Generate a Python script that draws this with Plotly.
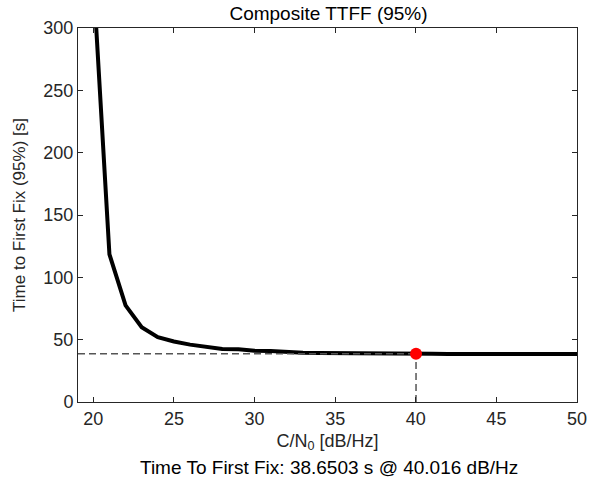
import plotly.graph_objects as go

cn0 = [20, 21, 22, 23, 24, 25, 26, 27, 28, 29, 30, 31, 32, 33, 34, 35,
       36, 37, 38, 39, 40, 41, 42, 43, 44, 45, 46, 47, 48, 49, 50]
ttff = [340, 118.5, 77.5, 60, 52, 48.5, 46, 44.5, 42.5, 42.3, 41.2, 41, 40,
        39.6, 39.3, 39.1, 38.9, 38.8, 38.75, 38.7, 38.65, 38.62, 38.6, 38.6,
        38.6, 38.6, 38.6, 38.6, 38.6, 38.6, 38.6]
sel_x = 40.016
sel_y = 38.6503
x_range = [19.05, 50]
y_range = [0, 300]
x_ticks = [20, 25, 30, 35, 40, 45, 50]
y_ticks = [0, 50, 100, 150, 200, 250, 300]

FONT = "Liberation Sans, Arial, Helvetica, sans-serif"
AX = "#262626"

fig = go.Figure()
fig.add_trace(go.Scatter(x=cn0, y=ttff, mode="lines",
                         line=dict(color="black", width=4), showlegend=False,
                         hoverinfo="skip"))
# dashed guide lines
fig.add_trace(go.Scatter(x=[x_range[0], sel_x], y=[sel_y, sel_y], mode="lines",
                         line=dict(color="#555555", width=1.5, dash="7px,4px"),
                         showlegend=False))
fig.add_trace(go.Scatter(x=[sel_x, sel_x], y=[y_range[0], sel_y], mode="lines",
                         line=dict(color="#555555", width=1.5, dash="7px,4px"),
                         showlegend=False))
fig.add_trace(go.Scatter(x=[sel_x], y=[sel_y], mode="markers",
                         marker=dict(color="red", size=12), showlegend=False))

fig.update_layout(
    width=599, height=497,
    margin=dict(l=78, r=20, t=28, b=95),
    paper_bgcolor="white", plot_bgcolor="white",
    font=dict(family=FONT, size=18, color=AX),
    title=dict(text="Composite TTFF (95%)", x=(78 + 579) / 2 / 599, xanchor="center",
               y=1 - 13 / 497, yanchor="middle",
               font=dict(family=FONT, size=19, color="black")),
    xaxis=dict(range=x_range, tickvals=x_ticks, ticks="inside", ticklen=5,
               tickcolor=AX, showline=True, linecolor=AX, linewidth=1,
               mirror="allticks", showgrid=False, zeroline=False,
               tickfont=dict(size=18, color=AX),
               title=dict(text="C/N<sub>0</sub> [dB/Hz]", standoff=6,
                          font=dict(size=18, color=AX))),
    yaxis=dict(range=y_range, tickvals=y_ticks, ticks="inside", ticklen=5,
               tickcolor=AX, showline=True, linecolor=AX, linewidth=1,
               mirror="allticks", showgrid=False, zeroline=False,
               tickfont=dict(size=18, color=AX),
               title=dict(text="Time to First Fix (95%) [s]", standoff=13,
                          font=dict(size=17, color=AX))),
    annotations=[dict(text="Time To First Fix: %.4f s @ %.3f dB/Hz" % (sel_y, sel_x),
                      xref="paper", yref="paper", x=(330 - 78) / 501, y=(402 - 467) / 374,
                      xanchor="center", yanchor="middle", showarrow=False,
                      font=dict(family=FONT, size=19, color="black"))],
)

fig.write_html("out.html")
